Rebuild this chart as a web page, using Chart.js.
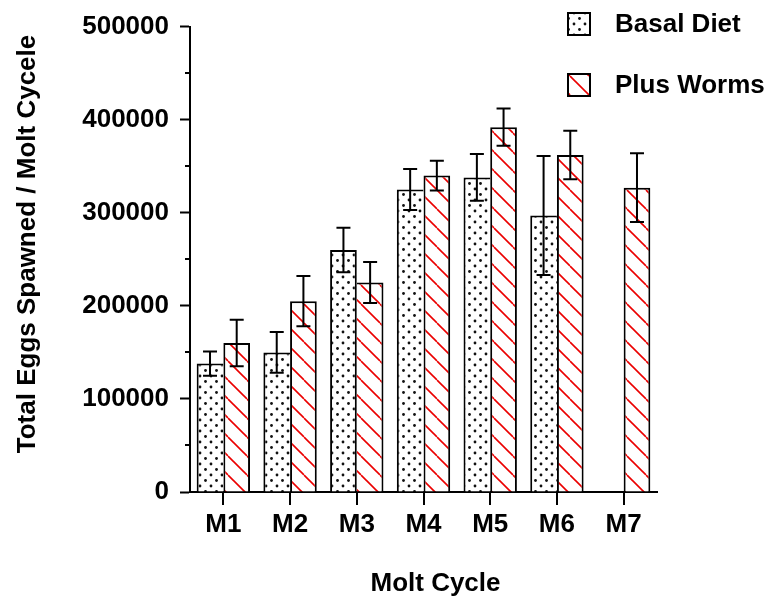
<!DOCTYPE html>
<html>
<head>
<meta charset="utf-8">
<script src="https://cdn.jsdelivr.net/npm/chart.js@4.4.0/dist/chart.umd.min.js"></script>
<style>
  body { margin: 0; background: #fff; }
</style>
</head>
<body>
<canvas id="eggs-chart" width="781" height="601"></canvas>
<script>
// Molt cycles along the x axis
let moltCycles = ['M1', 'M2', 'M3', 'M4', 'M5', 'M6', 'M7'];

// Total eggs spawned per molt cycle, with error bar half-widths
let basalDiet = [138000, 150000, 260000, 325000, 338000, 297000, null];
let basalErr = [13000, 22000, 24000, 22000, 25000, 64000, null];
let plusWorms = [160000, 205000, 225000, 340000, 392000, 362000, 327000];
let wormsErr = [25000, 27000, 22000, 16000, 20000, 26000, 37000];

// y axis: labels every 100000, small ticks every 50000
let yMax = 500000;
let yStep = 50000;
let yLabelStep = 100000;

let fontFamily = '"Liberation Sans", Arial, Helvetica, sans-serif';
let boldFont = 'bold 26px ' + fontFamily;

// Dotted fill for the basal diet bars
function makeDotPattern() {
  let c = document.createElement('canvas');
  c.width = 11;
  c.height = 11;
  let g = c.getContext('2d');
  g.fillStyle = '#fff';
  g.fillRect(0, 0, 11, 11);
  g.fillStyle = '#111';
  [[2, 2], [7.5, 7.5]].forEach((p) => {
    g.beginPath();
    g.arc(p[0], p[1], 1.4, 0, Math.PI * 2);
    g.fill();
  });
  return g.createPattern(c, 'repeat');
}

// Red diagonal hatch for the plus worms bars
function makeHatchPattern() {
  let c = document.createElement('canvas');
  c.width = 19;
  c.height = 19;
  let g = c.getContext('2d');
  g.fillStyle = '#fff';
  g.fillRect(0, 0, 19, 19);
  g.strokeStyle = 'rgb(235, 0, 0)';
  g.lineWidth = 1.6;
  [-19, 0, 19].forEach((o) => {
    g.beginPath();
    g.moveTo(o, 0);
    g.lineTo(o + 19, 19);
    g.stroke();
  });
  return g.createPattern(c, 'repeat');
}

let dotPattern = makeDotPattern();
let hatchPattern = makeHatchPattern();

// the taller bar of a pair draws the shared middle edge
function basalRightEdge(i) {
  return basalDiet[i] !== null && basalDiet[i] > plusWorms[i] ? 2 : 0;
}
function wormsLeftEdge(i) {
  return basalDiet[i] === null || plusWorms[i] >= basalDiet[i] ? 2 : 0;
}

// Draws error bars, the short minor ticks, the legend and both axis titles
const extrasPlugin = {
  id: 'extras',
  afterDatasetsDraw(chart) {
    let ctx = chart.ctx;
    let yScale = chart.scales.y;
    let series = [[basalDiet, basalErr], [plusWorms, wormsErr]];
    ctx.save();
    ctx.strokeStyle = '#000';
    ctx.lineWidth = 2;
    series.forEach((pair, i) => {
      let meta = chart.getDatasetMeta(i);
      meta.data.forEach((bar, j) => {
        let v = pair[0][j];
        if (v === null) return;
        let top = yScale.getPixelForValue(v + pair[1][j]);
        let bot = yScale.getPixelForValue(v - pair[1][j]);
        ctx.beginPath();
        ctx.moveTo(bar.x, top);
        ctx.lineTo(bar.x, bot);
        ctx.moveTo(bar.x - 7, top);
        ctx.lineTo(bar.x + 7, top);
        ctx.moveTo(bar.x - 7, bot);
        ctx.lineTo(bar.x + 7, bot);
        ctx.stroke();
      });
    });
    ctx.restore();
  },
  afterDraw(chart) {
    let ctx = chart.ctx;
    let yScale = chart.scales.y;
    let area = chart.chartArea;
    ctx.save();

    // minor ticks on the y axis
    ctx.strokeStyle = '#000';
    ctx.lineWidth = 2;
    for (let v = 0; v <= yMax; v += yStep) {
      if (v % yLabelStep === 0) continue;
      let py = Math.round(yScale.getPixelForValue(v));
      ctx.beginPath();
      ctx.moveTo(area.left - 5, py);
      ctx.lineTo(area.left, py);
      ctx.stroke();
    }

    // legend
    let items = [['Basal Diet', dotPattern, 12], ['Plus Worms', hatchPattern, 73]];
    items.forEach((item) => {
      ctx.fillStyle = item[1];
      ctx.fillRect(567, item[2], 24, 24);
      ctx.strokeStyle = '#000';
      ctx.lineWidth = 2;
      ctx.strokeRect(568, item[2] + 1, 22, 22);
      ctx.fillStyle = '#000';
      ctx.font = boldFont;
      ctx.textAlign = 'left';
      ctx.textBaseline = 'middle';
      ctx.fillText(item[0], 615, item[2] + 13);
    });

    // axis titles
    ctx.fillStyle = '#000';
    ctx.font = boldFont;
    ctx.textAlign = 'center';
    ctx.textBaseline = 'middle';
    ctx.fillText('Molt Cycle', (area.left + area.right) / 2 + 12, 584);
    ctx.translate(28, 244);
    ctx.rotate(-Math.PI / 2);
    ctx.fillText('Total Eggs Spawned / Molt Cycele', 0, 0);
    ctx.restore();
  }
};

let eggsChart = new Chart('eggs-chart', {
  type: 'bar',
  data: {
    labels: moltCycles,
    datasets: [
      {
        label: 'Basal Diet',
        data: basalDiet,
        backgroundColor: dotPattern,
        borderColor: '#000',
        borderWidth: (ctx) => ({
          top: 2,
          left: 2,
          right: basalRightEdge(ctx.dataIndex),
          bottom: 0
        }),
        barPercentage: 1.0,
        categoryPercentage: 0.8
      },
      {
        label: 'Plus Worms',
        data: plusWorms,
        backgroundColor: hatchPattern,
        borderColor: '#000',
        borderWidth: (ctx) => ({
          top: 2,
          right: 2,
          bottom: 0,
          left: wormsLeftEdge(ctx.dataIndex)
        }),
        barPercentage: 1.0,
        categoryPercentage: 0.8
      }
    ]
  },
  options: {
    responsive: false,
    animation: false,
    layout: {
      padding: { left: 70, right: 124, top: 25, bottom: 49 }
    },
    plugins: {
      legend: { display: false },
      tooltip: { enabled: false }
    },
    scales: {
      x: {
        offset: true,
        grid: {
          offset: false,
          drawOnChartArea: false,
          tickLength: 13,
          color: '#000',
          lineWidth: 2
        },
        border: { color: '#000', width: 2 },
        ticks: {
          color: '#000',
          padding: 4,
          maxRotation: 0,
          font: { family: fontFamily, size: 26, weight: 'bold' }
        },
        afterFit: (scale) => { scale.height = 60; }
      },
      y: {
        min: 0,
        max: yMax,
        grid: {
          drawOnChartArea: false,
          tickLength: 10,
          tickWidth: 2,
          tickColor: (ctx) => (ctx.tick && ctx.tick.value % yLabelStep === 0 ? '#000' : 'rgba(0,0,0,0)')
        },
        border: { color: '#000', width: 2 },
        ticks: {
          stepSize: yStep,
          color: '#000',
          padding: 11,
          autoSkip: false,
          callback: (value) => (value % yLabelStep === 0 ? String(value) : ''),
          font: { family: fontFamily, size: 26, weight: 'bold' }
        },
        afterFit: (scale) => { scale.width = 120; }
      }
    }
  },
  plugins: [extrasPlugin]
});
</script>
</body>
</html>
